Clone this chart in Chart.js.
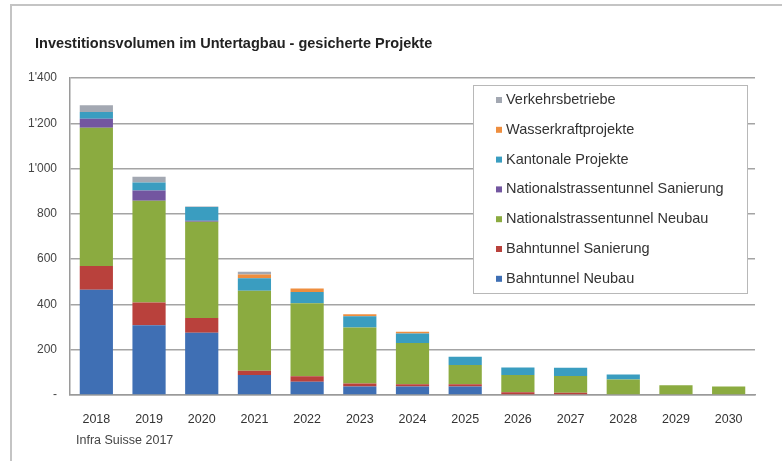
<!DOCTYPE html>
<html>
<head>
<meta charset="utf-8">
<script src="https://cdn.jsdelivr.net/npm/chart.js@4.4.1/dist/chart.umd.min.js"></script>
<style>
  html, body { margin: 0; padding: 0; background: #fff; overflow: hidden; }
  #wrap { position: relative; width: 782px; height: 461px; }
  #frame { position: absolute; left: 10px; top: 4px; width: 800px; height: 500px;
           border-top: 2px solid #c4c4c4; border-left: 2px solid #c4c4c4; pointer-events: none; }
  #title { position: absolute; left: 35px; top: 35px; font: bold 14.5px "Liberation Sans", Arial, sans-serif; color: #222; }
  #source { position: absolute; left: 76px; top: 433px; font: 12.5px "Liberation Sans", Arial, sans-serif; color: #444; }
</style>
</head>
<body>
<div id="wrap">
  <canvas id="investChart"></canvas>
  <div id="frame"></div>
  <div id="title">Investitionsvolumen im Untertagbau - gesicherte Projekte</div>
  <div id="source">Infra Suisse 2017</div>
</div>
<script>
const years = ['2018', '2019', '2020', '2021', '2022', '2023', '2024', '2025', '2026', '2027', '2028', '2029', '2030'];
const yTicks = [0, 200, 400, 600, 800, 1000, 1200, 1400];

const bahnNeubau      = [465, 308, 275, 88, 58, 37, 37, 37, 0, 0, 0, 0, 0];
const bahnSanierung   = [105, 100, 65, 19, 25, 14, 11, 11, 12, 10, 0, 0, 0];
const nsNeubau        = [610, 450, 425, 353, 322, 247, 182, 84, 76, 74, 69, 43, 37];
const nsSanierung     = [40, 45, 5, 0, 0, 0, 0, 0, 0, 0, 0, 0, 0];
const kantonale       = [30, 36, 60, 56, 50, 50, 42, 37, 34, 36, 22, 0, 0];
const wasserkraft     = [0, 0, 0, 16, 15, 9, 7, 0, 0, 0, 0, 0, 0];
const verkehrsbetriebe = [30, 25, 3, 12, 0, 0, 0, 0, 0, 0, 0, 0, 0];

const seriesNames = ['Bahntunnel Neubau', 'Bahntunnel Sanierung', 'Nationalstrassentunnel Neubau',
  'Nationalstrassentunnel Sanierung', 'Kantonale Projekte', 'Wasserkraftprojekte', 'Verkehrsbetriebe'];
const seriesData = [bahnNeubau, bahnSanierung, nsNeubau, nsSanierung, kantonale, wasserkraft, verkehrsbetriebe];
const seriesColors = ['#3f6fb4', '#b9413c', '#8bab40', '#7356a0', '#3a9dc0', '#ee8e3f', '#a3a8b2'];

function fmt(v) {
  if (v === 0) return '-';
  if (v >= 1000) return Math.floor(v / 1000) + "'" + String(v % 1000).padStart(3, '0');
  return String(v);
}

// legend box drawn inside the plot, reversed order like the original
const boxLegend = {
  id: 'boxLegend',
  afterDraw(chart) {
    const ctx = chart.ctx;
    const x0 = 473, y0 = 85, w = 274, h = 208;
    ctx.save();
    ctx.fillStyle = '#fff';
    ctx.fillRect(x0, y0, w, h);
    ctx.strokeStyle = '#b8b8b8';
    ctx.lineWidth = 1;
    ctx.strokeRect(x0 + 0.5, y0 + 0.5, w, h);
    ctx.font = '14.5px "Liberation Sans", Arial, sans-serif';
    ctx.textBaseline = 'middle';
    const ds = chart.data.datasets;
    for (let i = 0; i < ds.length; i++) {
      const d = ds[ds.length - 1 - i];
      const y = 100 + i * 29.8;
      ctx.fillStyle = d.backgroundColor;
      ctx.fillRect(496, y - 3, 6, 6);
      ctx.fillStyle = '#333';
      ctx.fillText(d.label, 506, y);
    }
    ctx.restore();
  }
};

new Chart(document.getElementById('investChart').getContext('2d'), {
  type: 'bar',
  data: {
    labels: years,
    datasets: seriesNames.map((name, i) => ({
      label: name,
      data: seriesData[i],
      backgroundColor: seriesColors[i],
      borderWidth: 0,
      barPercentage: 0.63,
      categoryPercentage: 1
    }))
  },
  options: {
    responsive: true,
    maintainAspectRatio: false,
    animation: false,
    layout: { padding: { left: 10, right: 27, top: 78, bottom: 26 } },
    plugins: {
      legend: { display: false },
      tooltip: { enabled: false }
    },
    scales: {
      x: {
        stacked: true,
        grid: { display: false },
        border: { color: '#9a9a9a', width: 1.5 },
        ticks: { color: '#333', padding: 9, font: { family: 'Liberation Sans', size: 12.5 } },
        afterFit(s) { s.height = 40; }
      },
      y: {
        stacked: true,
        min: 0,
        max: 1400,
        afterBuildTicks(s) { s.ticks = yTicks.map(v => ({ value: v })); },
        grid: { color: '#a4a4a4', lineWidth: 1.5, drawTicks: false },
        border: { color: '#9a9a9a', width: 1.5 },
        ticks: { color: '#444', padding: 13, font: { family: 'Liberation Sans', size: 12 }, callback: v => fmt(v) },
        afterFit(s) { s.width = 60; }
      }
    }
  },
  plugins: [boxLegend]
});
</script>
</body>
</html>
